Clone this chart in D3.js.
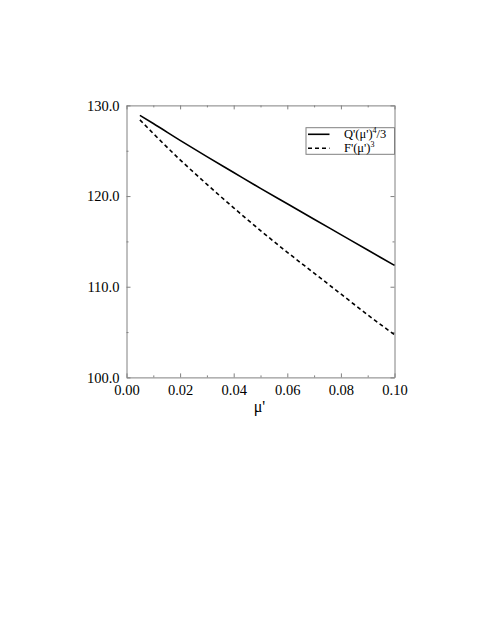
<!DOCTYPE html>
<html>
<head>
<meta charset="utf-8">
<script src="https://cdn.jsdelivr.net/npm/d3@7"></script>
<style>
  body { margin: 0; background: #fff; }
  svg { display: block; }
  svg text { font-family: "Liberation Serif", "Times New Roman", "DejaVu Serif", serif; fill: #000; }
  .axis line, .axis path { stroke: #808080; }
</style>
</head>
<body>
<div id="chart"></div>
<script>
// values
var mu = [0.005, 0.01, 0.02, 0.03, 0.04, 0.05, 0.06, 0.07, 0.08, 0.09, 0.10];
var qValues = [128.9, 128.0, 126.15, 124.35, 122.6, 120.85, 119.15, 117.45, 115.75, 114.05, 112.35];
var fValues = [128.4, 126.9, 124.0, 121.3, 118.7, 116.2, 113.8, 111.5, 109.2, 106.9, 104.7];

var xMajorTicks = [0, 0.02, 0.04, 0.06, 0.08, 0.10];
var xMinorTicks = [0.01, 0.03, 0.05, 0.07, 0.09];
var yMajorTicks = [100, 110, 120, 130];
var yMinorTicks = [105, 115, 125];

var seriesNames = ["Q'(\u03bc')", "F'(\u03bc')"];

var svgWidth = 491;
var svgHeight = 635;
var serif = "'Liberation Serif', 'Times New Roman', 'DejaVu Serif', serif";

var margin = { top: 105.4, left: 126.5 };
var width = 268;
var height = 272;

var svg = d3.select("#chart")
  .append("svg")
  .attr("width", svgWidth)
  .attr("height", svgHeight);

svg.append("rect")
  .attr("width", svgWidth)
  .attr("height", svgHeight)
  .attr("fill", "#fff");

var chartGroup = svg.append("g")
  .attr("transform", `translate(${margin.left}, ${margin.top})`);

var xScale = d3.scaleLinear().domain([0, 0.10]).range([0, width]);
var yScale = d3.scaleLinear().domain([100, 130]).range([height, 0]);

// minor ticks, all four sides (pointing inward)
function minorAxis(axis, translate) {
  var g = chartGroup.append("g")
    .attr("class", "axis")
    .attr("transform", translate)
    .call(axis.tickSizeInner(-2).tickSizeOuter(0).tickFormat(""));
  g.select(".domain").remove();
}
minorAxis(d3.axisBottom(xScale).tickValues(xMinorTicks), `translate(0, ${height})`);
minorAxis(d3.axisTop(xScale).tickValues(xMinorTicks), "translate(0, 0)");
minorAxis(d3.axisLeft(yScale).tickValues(yMinorTicks), "translate(0, 0)");
minorAxis(d3.axisRight(yScale).tickValues(yMinorTicks), `translate(${width}, 0)`);

// major ticks
chartGroup.append("g")
  .attr("class", "axis")
  .attr("transform", `translate(0, ${height})`)
  .call(d3.axisBottom(xScale).tickValues(xMajorTicks)
    .tickSizeInner(-4).tickSizeOuter(0).tickPadding(7)
    .tickFormat(d3.format(".2f")))
  .attr("font-family", serif)
  .attr("font-size", 14.5);

chartGroup.append("g")
  .attr("class", "axis")
  .call(d3.axisTop(xScale).tickValues(xMajorTicks)
    .tickSizeInner(-4).tickSizeOuter(0).tickFormat(""));

chartGroup.append("g")
  .attr("class", "axis")
  .call(d3.axisLeft(yScale).tickValues(yMajorTicks)
    .tickSizeInner(-4).tickSizeOuter(0).tickPadding(7)
    .tickFormat(d3.format(".1f")))
  .attr("font-family", serif)
  .attr("font-size", 14.5);

chartGroup.append("g")
  .attr("class", "axis")
  .attr("transform", `translate(${width}, 0)`)
  .call(d3.axisRight(yScale).tickValues(yMajorTicks)
    .tickSizeInner(-4).tickSizeOuter(0).tickFormat(""));

chartGroup.selectAll(".axis .tick line").attr("stroke", "#808080");

// x axis title
chartGroup.append("text")
  .attr("x", width / 2 - 1)
  .attr("y", height + 35)
  .attr("text-anchor", "middle")
  .attr("font-family", serif)
  .attr("font-size", "16px")
  .text("\u03bc'");

// lines
var line = d3.line()
  .x((d, i) => xScale(mu[i]))
  .y(d => yScale(d))
  .curve(d3.curveMonotoneX);

chartGroup.append("path")
  .datum(qValues)
  .attr("d", line)
  .attr("fill", "none")
  .attr("stroke", "#000")
  .attr("stroke-width", 1.6);

chartGroup.append("path")
  .datum(fValues)
  .attr("d", line)
  .attr("fill", "none")
  .attr("stroke", "#000")
  .attr("stroke-width", 1.6)
  .attr("stroke-dasharray", "4,3");

// legend
var legend = chartGroup.append("g")
  .attr("transform", `translate(${width - 89}, 22.3)`);

legend.append("rect")
  .attr("x", 0.5)
  .attr("y", 0)
  .attr("width", 88.5)
  .attr("height", 26.6)
  .attr("fill", "#fff")
  .attr("stroke", "#808080")
  .attr("stroke-width", 1);

var legendRows = [
  { name: seriesNames[0], sup: "4", tail: "/3", dash: null },
  { name: seriesNames[1], sup: "3", tail: "", dash: "4,3" }
];

legendRows.forEach(function(row, i) {
  var y = 6.6 + i * 14;
  legend.append("line")
    .attr("x1", 2.5)
    .attr("x2", 24)
    .attr("y1", y)
    .attr("y2", y)
    .attr("stroke", "#000")
    .attr("stroke-width", 1.6)
    .attr("stroke-dasharray", row.dash);

  var t = legend.append("text")
    .attr("x", 38.5)
    .attr("y", y + 4)
    .attr("font-family", serif)
    .attr("font-size", "12.5px");
  t.append("tspan").text(row.name);
  t.append("tspan")
    .attr("dy", -5)
    .attr("font-size", "8px")
    .text(row.sup);
  if (row.tail) {
    t.append("tspan")
      .attr("dy", 5)
      .text(row.tail);
  }
});
</script>
</body>
</html>
